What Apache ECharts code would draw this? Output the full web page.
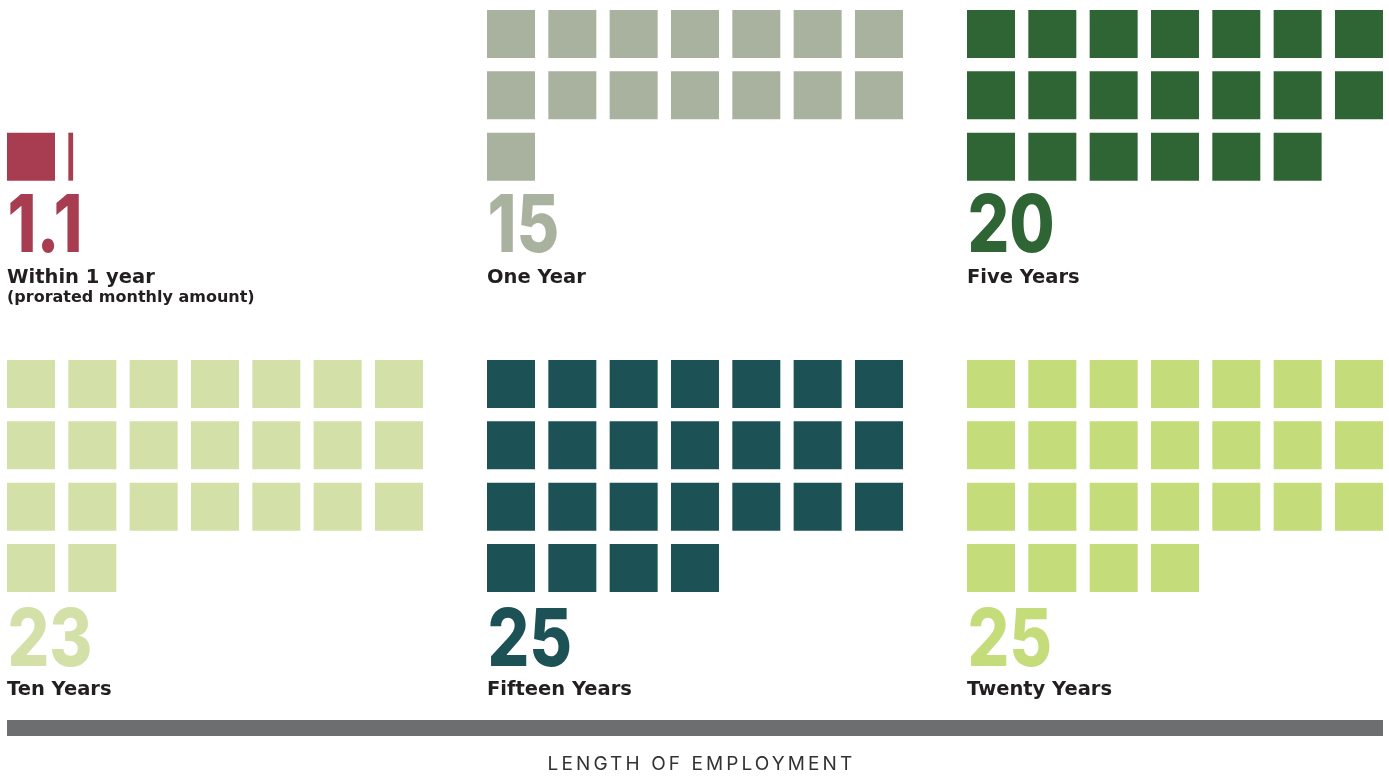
<!DOCTYPE html>
<html>
<head>
<meta charset="utf-8">
<title>Length of Employment</title>
<script src="https://cdn.jsdelivr.net/npm/echarts@6/dist/echarts.min.js"></script>
<style>
  html, body { margin: 0; padding: 0; background: #ffffff; }
  #chart { width: 1389px; height: 776px; }
</style>
</head>
<body>
<div id="chart"></div>
<script>
// Panels, in reading order (top row, then bottom row)
const categories = ['Within 1 year', 'One Year', 'Five Years', 'Ten Years', 'Fifteen Years', 'Twenty Years'];
const notes = ['(prorated monthly amount)', '', '', '', '', ''];
const values = [1.1, 15, 20, 23, 25, 25];
const colors = ['#a83d51', '#a9b29f', '#2f6534', '#d3e0a8', '#1c5256', '#c5dc7a'];
const axisTitle = 'LENGTH OF EMPLOYMENT';

// Layout constants
const COLS = 7;
const PITCH = 61.33;               // width of one waffle cell, square plus gap
const SQUARE = 48;                 // drawn square side
const SQUARE_RATIO = SQUARE / PITCH;
const PANEL_LEFT = [7, 487, 967];
const ROW_TOP = [10, 360];
const ROW_SLOTS = [3, 4];
const NUMBER_Y = [228, 642];       // vertical centre of the big figures
const NUMBER_SCALE_X = 0.82;       // figures are set slightly condensed
const LABEL_Y = [277.5, 690];
const NOTE_Y = [297.5, 710];
const TEXT_DARK = '#231f20';
const NUM_FONT = 'Inter';
const LABEL_FONT = '"DejaVu Sans"';
const CAPTION_FONT = 'Inter';
const CAPTION_SPACING = '3.1px';

// The axis caption is set with wide tracking
(function () {
  const proto = CanvasRenderingContext2D.prototype;
  const fillText = proto.fillText;
  proto.fillText = function (text) {
    if (text === axisTitle && 'letterSpacing' in this) {
      const prev = this.letterSpacing;
      this.letterSpacing = CAPTION_SPACING;
      const r = fillText.apply(this, arguments);
      this.letterSpacing = prev;
      return r;
    }
    return fillText.apply(this, arguments);
  };
})();

const grids = [], xAxes = [], yAxes = [], series = [], graphics = [];

values.forEach(function (v, i) {
  const pc = i % 3, pr = Math.floor(i / 3);
  const slots = ROW_SLOTS[pr];
  // the grid ends at the right edge of the last square column
  grids.push({
    left: PANEL_LEFT[pc], top: ROW_TOP[pr],
    width: (COLS - 1) * PITCH + SQUARE, height: slots * PITCH
  });
  xAxes.push({ type: 'value', gridIndex: i, min: 0, max: COLS - 1 + SQUARE_RATIO, show: false });
  yAxes.push({ type: 'value', gridIndex: i, min: 0, max: slots, inverse: true, show: false });

  // One item per square: [column, row, filled fraction]
  const count = Math.ceil(v);
  const rowsUsed = Math.ceil(count / COLS);
  const offset = slots - rowsUsed;   // the waffle sits right above its figure
  const data = [];
  for (let k = 0; k < count; k++) {
    data.push([k % COLS, offset + Math.floor(k / COLS), Math.min(1, v - k)]);
  }

  series.push({
    type: 'custom',
    name: categories[i],
    xAxisIndex: i, yAxisIndex: i,
    silent: true,
    data: data,
    renderItem: function (params, api) {
      const p = api.coord([api.value(0), api.value(1)]);
      const cell = api.size([1, 1]);
      const side = cell[0] * SQUARE_RATIO;
      return {
        type: 'rect',
        shape: { x: p[0], y: p[1], width: side * api.value(2), height: side },
        style: { fill: colors[i] }
      };
    }
  });

  // Big figure and caption under each waffle
  const x = PANEL_LEFT[pc];
  graphics.push({
    type: 'text', x: x + 0.5, y: NUMBER_Y[pr],
    scaleX: NUMBER_SCALE_X,
    style: {
      text: String(v), fill: colors[i],
      font: '800 80px ' + NUM_FONT,
      align: 'left', verticalAlign: 'middle'
    }
  });
  graphics.push({
    type: 'text', x: x, y: LABEL_Y[pr],
    style: {
      text: categories[i], fill: TEXT_DARK,
      font: 'bold 19.5px ' + LABEL_FONT,
      align: 'left', verticalAlign: 'middle'
    }
  });
  if (notes[i]) {
    graphics.push({
      type: 'text', x: x, y: NOTE_Y[pr],
      style: {
        text: notes[i], fill: TEXT_DARK,
        font: 'bold 16px ' + LABEL_FONT,
        align: 'left', verticalAlign: 'middle'
      }
    });
  }
});

// Baseline bar and axis caption
graphics.push({
  type: 'rect', shape: { x: 7, y: 720, width: 1376, height: 16 },
  style: { fill: '#6d6e70' }
});
graphics.push({
  type: 'text', x: 701.5, y: 764,
  style: {
    text: axisTitle, fill: '#333333',
    font: '400 19px ' + CAPTION_FONT,
    align: 'center', verticalAlign: 'middle'
  }
});

const chart = echarts.init(document.getElementById('chart'), null, { renderer: 'canvas' });
chart.setOption({
  animation: false,
  backgroundColor: '#ffffff',
  grid: grids,
  xAxis: xAxes,
  yAxis: yAxes,
  series: series,
  graphic: graphics
});
</script>
</body>
</html>
